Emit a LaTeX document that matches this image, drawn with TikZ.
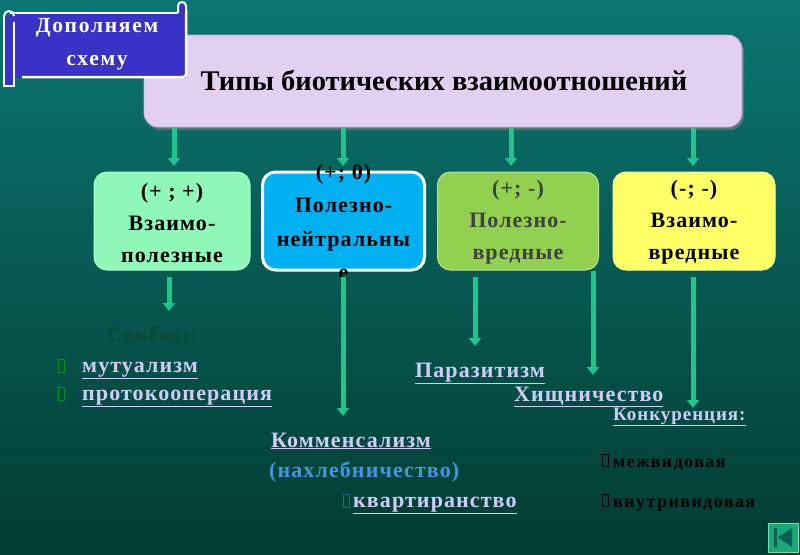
\documentclass[tikz,border=0pt]{standalone}
\usepackage{fontspec}
\setmainfont{Liberation Serif}
\newfontfamily\spfont[LetterSpace=5]{Liberation Serif}
\newfontfamily\spwide[LetterSpace=8]{Liberation Serif}
\usetikzlibrary{arrows.meta,shadows}
\definecolor{bgtop}{HTML}{0B7671}
\definecolor{bgbot}{HTML}{023C32}
\definecolor{lav}{HTML}{E2D0F0}
\definecolor{lavtxt}{HTML}{CFCCF5}
\definecolor{arrg}{HTML}{1FC68C}
\definecolor{scroll}{HTML}{3A31C6}
\definecolor{boxA}{HTML}{8FF8B8}
\definecolor{boxB}{HTML}{00B0F0}
\definecolor{boxC}{HTML}{92D050}
\definecolor{boxD}{HTML}{FFFF66}
\definecolor{simb}{HTML}{0A4A2E}
\definecolor{nahl}{HTML}{4198E0}
\tikzset{
  x=1pt,y=-1pt,
  arr/.style={draw=arrg,line width=5pt,-{Triangle[width=12pt,length=8pt]}},
  catbox/.style={rounded corners=13pt,minimum width=#1,minimum height=98pt,inner sep=0pt},
  boxtxt/.style={align=center,font=\spfont\fontsize{22}{32}\selectfont\bfseries,inner sep=0pt},
  lavlink/.style={anchor=base west,inner sep=0pt,text=lavtxt,font=\spfont\fontsize{22}{24}\selectfont\bfseries},
  tofu/.style={draw=#1,line width=0.8pt},
}
\begin{document}
\begin{tikzpicture}
\useasboundingbox (0,0) rectangle (800,554);
\shade[top color=bgtop,bottom color=bgbot] (0,0) rectangle (800,554);

% main box
\node[rounded corners=14pt,fill=lav,draw=lav!80!violet,line width=0.8pt,
      minimum width=598pt,minimum height=92pt,inner sep=0pt,
      drop shadow={shadow xshift=2pt,shadow yshift=-3pt,opacity=0.6}] (main) at (443,81) {};
\node[font=\fontsize{28.5}{32}\selectfont\bfseries,inner sep=0pt] (title) at (444,80) {Типы биотических взаимоотношений};

% scroll banner
\fill[scroll] (10,13) rectangle (186,78);
\draw[white,line width=2.5pt,rounded corners=3pt] (186,10) -- (186,77) -- (22,77);
\draw[white,line width=2.5pt] (10,13) -- (178,13);
\fill[scroll] (4,16) rectangle (14,86);
\draw[white,line width=2.5pt] (4,16) -- (4,86) -- (14,86) -- (14,78);
\draw[white,line width=2pt] (4,16) arc (180:0:5pt);
\fill[scroll] (178,4) rectangle (186,13);
\draw[white,line width=2pt] (178,13) -- (178,6) arc (180:0:4pt) -- (186,13);
\draw[white,line width=1.2pt] (14,78) -- (14,22);
\node[white,font=\spwide\fontsize{21.5}{33}\selectfont\bfseries,align=center,inner sep=0pt] (dop) at (97,44) {Дополняем\\схему};

% category boxes
\node[catbox=156pt,fill=boxA,draw=boxA!70!white,line width=1pt] (b1) at (172,221) {};
\node[catbox=162pt,fill=boxB,draw=white,line width=3pt] (b2) at (343.5,221) {};
\node[catbox=161pt,fill=boxC,draw=boxC!60!white,line width=1pt] (b3) at (518,221) {};
\node[catbox=162pt,fill=boxD,draw=boxD!50!white,line width=1pt] (b4) at (694,221) {};

\node[boxtxt] (t1) at (172,223) {(+ ; +)\\Взаимо-\\полезные};
\node[boxtxt,font=\spfont\fontsize{22}{33.5}\selectfont\bfseries] (t2) at (343.5,222) {(+; 0)\\Полезно-\\нейтральны\\е};
\node[boxtxt,text=black!75] (t3) at (518,222) {(+; -)\\Полезно-\\вредные};
\node[boxtxt] (t4) at (694,222) {(-; -)\\Взаимо-\\вредные};

% arrows from main box
\coordinate (m1) at (174,127); \coordinate (e1) at (174,166);
\coordinate (m2) at (343,127); \coordinate (e2) at (343,166);
\coordinate (m3) at (511,127); \coordinate (e3) at (511,166);
\coordinate (m4) at (693,127); \coordinate (e4) at (693,166);
\foreach \i in {1,2,3,4} \draw[arr] (m\i) -- (e\i);

% arrows from boxes
\coordinate (s1) at (169,277); \coordinate (f1) at (169,311);
\coordinate (s2) at (343,277); \coordinate (f2) at (343,416);
\coordinate (s3) at (475,277); \coordinate (f3) at (475,346);
\coordinate (s3b) at (593,271); \coordinate (f3b) at (593,375);
\coordinate (s4) at (693,277); \coordinate (f4) at (693,408);
\draw[arr] (s1) -- (f1);
\draw[arr] (s2) -- (f2);
\draw[arr] (s3) -- (f3);
\draw[arr] (s3b) -- (f3b);
\draw[arr] (s4) -- (f4);

% texts
\node[anchor=base west,inner sep=0pt,text=simb,font=\spfont\fontsize{19}{20}\selectfont\bfseries] (simbioz) at (108,340) {Симбиоз:};
\draw[tofu=simb!60!green] (58,359) rectangle (64,372);
\node[lavlink] (mut) at (82,372) {\underline{мутуализм}};
\draw[tofu=simb!60!green] (58,387) rectangle (64,400);
\node[lavlink] (prot) at (82,400) {\underline{протокооперация}};

\node[lavlink] (paraz) at (415,377) {\underline{Паразитизм}};
\node[lavlink] (hish) at (514,401) {\underline{Хищничество}};
\node[lavlink,font=\spfont\fontsize{19}{20}\selectfont\bfseries] (konk) at (613,420) {\underline{Конкуренция:}};

\node[lavlink] (komm) at (271,447) {\underline{Комменсализм}};
\node[anchor=base west,inner sep=0pt,text=nahl,font=\spfont\fontsize{22}{24}\selectfont\bfseries] (nahleb) at (269,477) {(нахлебничество)};
\draw[tofu=nahl!50!bgbot] (343,494) rectangle (349,507);
\node[lavlink] (kvart) at (353,507) {\underline{квартиранство}};

\draw[tofu=black] (602,454) rectangle (608,466);
\node[anchor=base west,inner sep=0pt,font=\spwide\fontsize{18}{20}\selectfont\bfseries] (mezh) at (613,467) {межвидовая};
\draw[tofu=black] (602,494) rectangle (608,506);
\node[anchor=base west,inner sep=0pt,font=\spwide\fontsize{18}{20}\selectfont\bfseries] (vnutr) at (613,507) {внутривидовая};

% navigation button
\node[fill=arrg!85!black,draw=arrg!60!white,line width=1pt,minimum width=30pt,minimum height=29pt,inner sep=0pt] (nav) at (783,537.5) {};
\fill[bgtop!80!black] (774,528) rectangle (777,547);
\fill[bgtop!80!black] (792,528) -- (792,547) -- (778,537.5) -- cycle;
\end{tikzpicture}
\end{document}
